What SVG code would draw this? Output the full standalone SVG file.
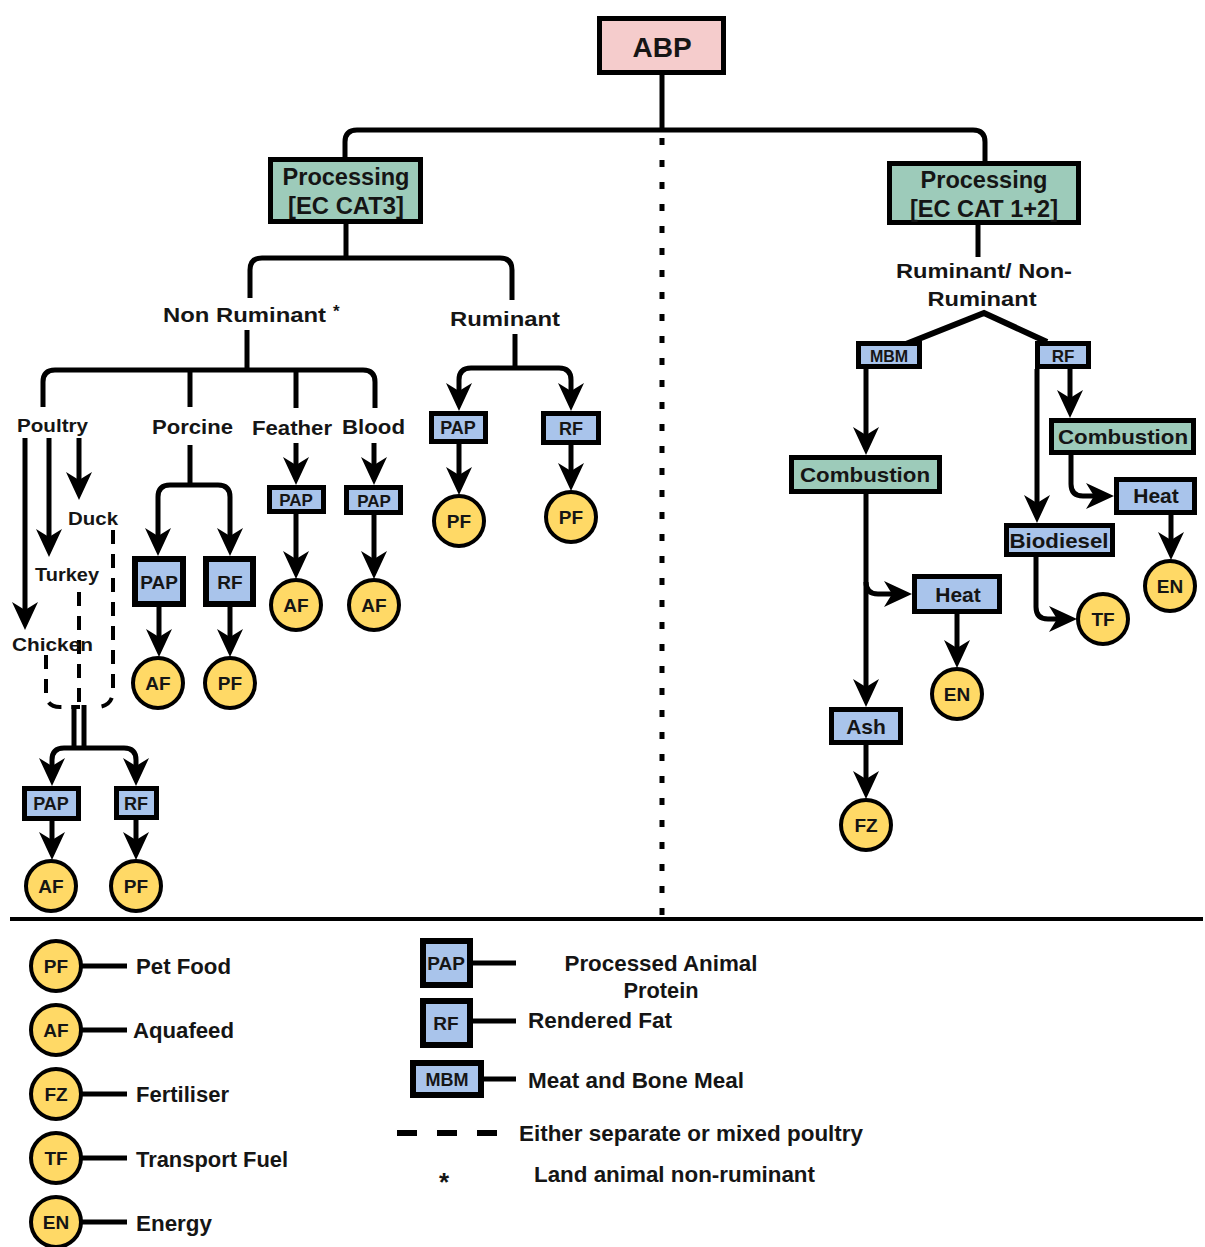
<svg xmlns="http://www.w3.org/2000/svg" width="1205" height="1247" viewBox="0 0 1205 1247">
<defs>
<style>
.t{font-family:"Liberation Sans",Arial,sans-serif;font-weight:bold;fill:#151515}
.c{text-anchor:middle}
.bx{stroke:#000;stroke-width:5}
.thick{stroke-width:6}
.blue{fill:#a9c4eb}
.teal{fill:#9dcbba}
.pink{fill:#f5cccc}
.yel{fill:#ffd966;stroke:#000;stroke-width:4}
.ct{font-size:19px}
.ln{fill:none;stroke:#000;stroke-width:5}
.ar{marker-end:url(#ah)}
.dash{fill:none;stroke:#000;stroke-width:4;stroke-dasharray:14 10}
</style>
<marker id="ah" markerUnits="userSpaceOnUse" markerWidth="28" markerHeight="28" viewBox="0 0 28 28" refX="18" refY="14" orient="auto">
<path d="M0,1 L28,14 L0,27 L8,14 z" fill="#000"/>
</marker>
</defs>
<rect width="1205" height="1247" fill="#fff"/>

<g id="connectors">
<path class="ln" d="M662,75 V130"/>
<path class="ln" d="M345,158 V142 Q345,130 357,130 H973 Q985,130 985,142 V162"/>
<path d="M662,138 V916" fill="none" stroke="#000" stroke-width="5" stroke-dasharray="7 15"/>
<path class="ln" d="M346,224 V258"/>
<path class="ln" d="M250,298 V270 Q250,258 262,258 H500 Q512,258 512,270 V300"/>
<path class="ln" d="M247,330 V370"/>
<path class="ln" d="M43,407 V382 Q43,370 55,370 H363 Q375,370 375,382 V408"/>
<path class="ln" d="M190,370 V407"/>
<path class="ln" d="M296,370 V408"/>
<path class="ln" d="M190,445 V485"/>
<path class="ln ar" d="M190,485 H170 Q158,485 158,497 V546"/>
<path class="ln ar" d="M190,485 H218 Q230,485 230,497 V546"/>
<path class="ln ar" d="M159,607 V647"/>
<path class="ln ar" d="M230,607 V647"/>
<path class="ln ar" d="M296,443 V475"/>
<path class="ln ar" d="M296,514 V569"/>
<path class="ln ar" d="M374,443 V475"/>
<path class="ln ar" d="M374,515 V569"/>
<path class="ln" d="M515,334 V368"/>
<path class="ln ar" d="M515,368 H471 Q459,368 459,380 V401"/>
<path class="ln ar" d="M515,368 H559 Q571,368 571,380 V401"/>
<path class="ln ar" d="M459,444 V485"/>
<path class="ln ar" d="M571,445 V481"/>
<path class="ln ar" d="M25,438 V620"/>
<path class="ln ar" d="M49,438 V547"/>
<path class="ln ar" d="M79,438 V490"/>
<path class="dash" d="M46,655 V693 Q46,707 60,707 H80"/>
<path class="dash" d="M79,592 V707"/>
<path class="dash" d="M113,530 V690 Q113,707 96,707"/>
<path class="ln" d="M74,705 V748" stroke-width="4"/>
<path class="ln" d="M84,705 V748" stroke-width="4"/>
<path class="ln ar" d="M79,748 H64 Q52,748 52,760 V776"/>
<path class="ln ar" d="M79,748 H124 Q136,748 136,760 V776"/>
<path class="ln ar" d="M52,821 V850"/>
<path class="ln ar" d="M136,820 V850"/>
<path class="ln" d="M978,225 V257"/>
<path d="M906,344 L984,313 L1047,342" fill="none" stroke="#000" stroke-width="6"/>
<path class="ln ar" d="M866,369 V445"/>
<path class="ln ar" d="M1037,369 V513"/>
<path class="ln ar" d="M1070,369 V408"/>
<path class="ln ar" d="M1071,455 V484 Q1071,496 1083,496 H1104"/>
<path class="ln ar" d="M1171,515 V550"/>
<path class="ln ar" d="M1036,557 V607 Q1036,619 1048,619 H1067"/>
<path class="ln ar" d="M866,494 V697"/>
<path class="ln ar" d="M866,582 Q866,594 878,594 H902"/>
<path class="ln ar" d="M957,614 V658"/>
<path class="ln ar" d="M866,745 V789"/>
<path d="M10,919 H1203" stroke="#000" stroke-width="4"/>
</g>

<g id="abp"><rect class="bx pink" x="599.5" y="18.5" width="124" height="54"/><text class="t c" x="662" y="57" font-size="28">ABP</text></g>
<g id="proc-cat3"><rect class="bx teal" x="270.5" y="159.5" width="150" height="62"/>
<text class="t c" x="346" y="185" font-size="23" textLength="127" lengthAdjust="spacingAndGlyphs">Processing</text>
<text class="t c" x="346" y="214" font-size="23" textLength="116" lengthAdjust="spacingAndGlyphs">[EC CAT3]</text></g>
<g id="proc-cat12"><rect class="bx teal" x="889.5" y="163.5" width="189" height="59"/>
<text class="t c" x="984" y="188" font-size="23" textLength="127" lengthAdjust="spacingAndGlyphs">Processing</text>
<text class="t c" x="984" y="217" font-size="23" textLength="148" lengthAdjust="spacingAndGlyphs">[EC CAT 1+2]</text></g>

<g id="lbl-nonruminant"><text class="t" x="163" y="322" font-size="21" textLength="163" lengthAdjust="spacingAndGlyphs">Non Ruminant</text><text class="t" x="333" y="317" font-size="17">*</text></g>
<g id="lbl-ruminant"><text class="t" x="450" y="326" font-size="21" textLength="110" lengthAdjust="spacingAndGlyphs">Ruminant</text></g>
<g id="lbl-rumnon"><text class="t c" x="984" y="278" font-size="21" textLength="176" lengthAdjust="spacingAndGlyphs">Ruminant/ Non-</text>
<text class="t c" x="982" y="306" font-size="21" textLength="109" lengthAdjust="spacingAndGlyphs">Ruminant</text></g>
<g id="lbl-poultry"><text class="t" x="17" y="432" font-size="19" textLength="71" lengthAdjust="spacingAndGlyphs">Poultry</text></g>
<g id="lbl-porcine"><text class="t" x="152" y="434" font-size="21" textLength="81" lengthAdjust="spacingAndGlyphs">Porcine</text></g>
<g id="lbl-feather"><text class="t" x="252" y="435" font-size="21" textLength="80" lengthAdjust="spacingAndGlyphs">Feather</text></g>
<g id="lbl-blood"><text class="t" x="342" y="434" font-size="21" textLength="63" lengthAdjust="spacingAndGlyphs">Blood</text></g>
<g id="lbl-duck"><text class="t" x="68" y="525" font-size="18" textLength="50" lengthAdjust="spacingAndGlyphs">Duck</text></g>
<g id="lbl-turkey"><text class="t" x="35" y="581" font-size="18" textLength="64" lengthAdjust="spacingAndGlyphs">Turkey</text></g>
<g id="lbl-chicken"><text class="t" x="12" y="651" font-size="18" textLength="81" lengthAdjust="spacingAndGlyphs">Chicken</text></g>

<g id="porc-pap"><rect class="bx thick blue" x="135" y="559" width="48" height="45"/><text class="t c" x="159" y="589" font-size="19">PAP</text></g>
<g id="porc-rf"><rect class="bx thick blue" x="206" y="559" width="47" height="45"/><text class="t c" x="230" y="589" font-size="19">RF</text></g>
<g id="porc-af"><circle class="yel" cx="158" cy="683" r="25"/><text class="t c ct" x="158" y="690">AF</text></g>
<g id="porc-pf"><circle class="yel" cx="230" cy="683" r="25"/><text class="t c ct" x="230" y="690">PF</text></g>

<g id="feat-pap"><rect class="bx blue" x="269.5" y="487.5" width="54" height="24"/><text class="t c" x="296" y="506" font-size="17">PAP</text></g>
<g id="feat-af"><circle class="yel" cx="296" cy="605" r="25"/><text class="t c ct" x="296" y="612">AF</text></g>
<g id="blood-pap"><rect class="bx blue" x="346.5" y="487.5" width="54" height="25"/><text class="t c" x="374" y="507" font-size="17">PAP</text></g>
<g id="blood-af"><circle class="yel" cx="374" cy="605" r="25"/><text class="t c ct" x="374" y="612">AF</text></g>

<g id="rum-pap"><rect class="bx blue" x="431.5" y="413.5" width="54" height="28"/><text class="t c" x="458" y="434" font-size="18">PAP</text></g>
<g id="rum-rf"><rect class="bx blue" x="543.5" y="413.5" width="55" height="29"/><text class="t c" x="571" y="435" font-size="18">RF</text></g>
<g id="rum-pf1"><circle class="yel" cx="459" cy="521" r="25"/><text class="t c ct" x="459" y="528">PF</text></g>
<g id="rum-pf2"><circle class="yel" cx="571" cy="517" r="25"/><text class="t c ct" x="571" y="524">PF</text></g>

<g id="poul-pap"><rect class="bx blue" x="24.5" y="788.5" width="54" height="30"/><text class="t c" x="51" y="810" font-size="18">PAP</text></g>
<g id="poul-rf"><rect class="bx blue" x="116.5" y="788.5" width="40" height="29"/><text class="t c" x="136" y="810" font-size="18">RF</text></g>
<g id="poul-af"><circle class="yel" cx="51" cy="886" r="25"/><text class="t c ct" x="51" y="893">AF</text></g>
<g id="poul-pf"><circle class="yel" cx="136" cy="886" r="25"/><text class="t c ct" x="136" y="893">PF</text></g>

<g id="mbm"><rect class="bx blue" x="858.5" y="343.5" width="61" height="23"/><text class="t c" x="889" y="362" font-size="16">MBM</text></g>
<g id="rf-right"><rect class="bx blue" x="1037.5" y="343.5" width="51" height="23"/><text class="t c" x="1063" y="362" font-size="17">RF</text></g>
<g id="comb-left"><rect class="bx teal" x="791.5" y="457.5" width="148" height="34"/><text class="t c" x="865" y="482" font-size="21" textLength="130" lengthAdjust="spacingAndGlyphs">Combustion</text></g>
<g id="comb-right"><rect class="bx teal" x="1051.5" y="420.5" width="142" height="32"/><text class="t c" x="1123" y="444" font-size="21" textLength="130" lengthAdjust="spacingAndGlyphs">Combustion</text></g>
<g id="heat-right"><rect class="bx blue" x="1116.5" y="479.5" width="78" height="33"/><text class="t c" x="1156" y="503" font-size="21">Heat</text></g>
<g id="en-right"><circle class="yel" cx="1170" cy="586" r="25"/><text class="t c ct" x="1170" y="593">EN</text></g>
<g id="biodiesel"><rect class="bx blue" x="1006.5" y="525.5" width="106" height="29"/><text class="t c" x="1059" y="548" font-size="21" textLength="99" lengthAdjust="spacingAndGlyphs">Biodiesel</text></g>
<g id="tf"><circle class="yel" cx="1103" cy="619" r="25"/><text class="t c ct" x="1103" y="626">TF</text></g>
<g id="heat-left"><rect class="bx blue" x="914.5" y="576.5" width="85" height="35"/><text class="t c" x="958" y="602" font-size="21">Heat</text></g>
<g id="en-left"><circle class="yel" cx="957" cy="694" r="25"/><text class="t c ct" x="957" y="701">EN</text></g>
<g id="ash"><rect class="bx blue" x="831.5" y="709.5" width="69" height="33"/><text class="t c" x="866" y="734" font-size="21">Ash</text></g>
<g id="fz"><circle class="yel" cx="866" cy="825" r="25"/><text class="t c ct" x="866" y="832">FZ</text></g>

<g id="legend">
<path class="ln" d="M81,966 H127 M81,1030 H127 M81,1094 H127 M81,1158 H127 M81,1222 H127 M470,963 H516 M470,1021 H516 M481,1079 H516"/>
<circle class="yel" cx="56" cy="966" r="25"/><text class="t c ct" x="56" y="973">PF</text>
<circle class="yel" cx="56" cy="1030" r="25"/><text class="t c ct" x="56" y="1037">AF</text>
<circle class="yel" cx="56" cy="1094" r="25"/><text class="t c ct" x="56" y="1101">FZ</text>
<circle class="yel" cx="56" cy="1158" r="25"/><text class="t c ct" x="56" y="1165">TF</text>
<circle class="yel" cx="56" cy="1222" r="25"/><text class="t c ct" x="56" y="1229">EN</text>
<text class="t" x="136" y="974" font-size="22" textLength="95" lengthAdjust="spacingAndGlyphs">Pet Food</text>
<text class="t" x="133" y="1038" font-size="22" textLength="101" lengthAdjust="spacingAndGlyphs">Aquafeed</text>
<text class="t" x="136" y="1102" font-size="22" textLength="93" lengthAdjust="spacingAndGlyphs">Fertiliser</text>
<text class="t" x="136" y="1167" font-size="22" textLength="152" lengthAdjust="spacingAndGlyphs">Transport Fuel</text>
<text class="t" x="136" y="1231" font-size="22" textLength="76" lengthAdjust="spacingAndGlyphs">Energy</text>
<rect class="bx thick blue" x="423" y="941" width="47" height="44"/><text class="t c" x="446" y="970" font-size="19">PAP</text>
<rect class="bx thick blue" x="423" y="1001" width="47" height="44"/><text class="t c" x="446" y="1030" font-size="19">RF</text>
<rect class="bx thick blue" x="413" y="1063" width="68" height="32"/><text class="t c" x="447" y="1086" font-size="18">MBM</text>
<text class="t c" x="661" y="971" font-size="22" textLength="193" lengthAdjust="spacingAndGlyphs">Processed Animal</text>
<text class="t c" x="661" y="998" font-size="22" textLength="75" lengthAdjust="spacingAndGlyphs">Protein</text>
<text class="t" x="528" y="1028" font-size="22" textLength="144" lengthAdjust="spacingAndGlyphs">Rendered Fat</text>
<text class="t" x="528" y="1088" font-size="22" textLength="216" lengthAdjust="spacingAndGlyphs">Meat and Bone Meal</text>
<path d="M397,1133 H498" fill="none" stroke="#000" stroke-width="6" stroke-dasharray="20 20"/>
<text class="t" x="519" y="1141" font-size="22" textLength="344" lengthAdjust="spacingAndGlyphs">Either separate or mixed poultry</text>
<text class="t" x="439" y="1191" font-size="26">*</text>
<text class="t" x="534" y="1182" font-size="22" textLength="281" lengthAdjust="spacingAndGlyphs">Land animal non-ruminant</text>
</g>
</svg>
